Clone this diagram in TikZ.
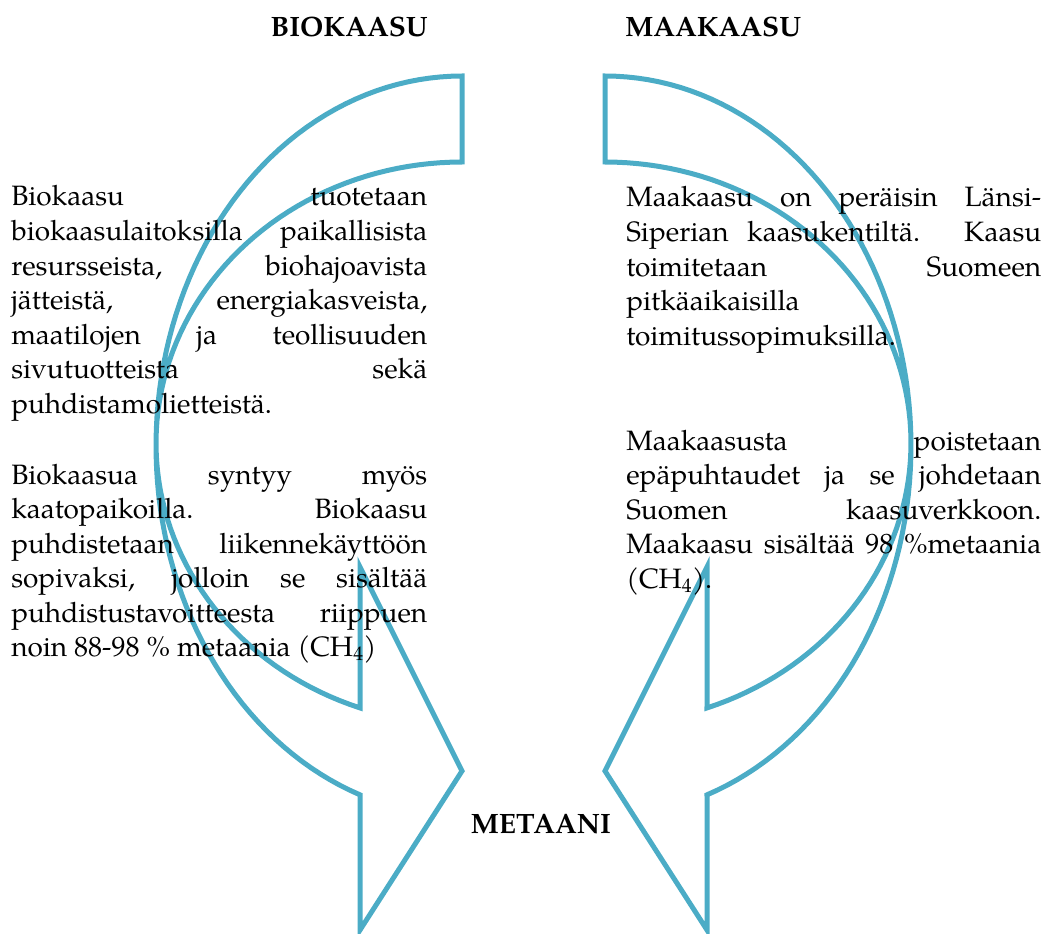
\documentclass[tikz,border=0pt]{standalone}
\usepackage{fontspec}
\setmainfont{TeX Gyre Pagella}

\definecolor{kaarisininen}{HTML}{4BACC6}

\tikzset{
  kaari/.style={draw=kaarisininen, line width=3.75pt, line join=miter},
  otsikko/.style={font=\fontsize{21}{26}\selectfont\bfseries, inner sep=0pt},
  leipa/.style={font=\fontsize{21}{25.9}\selectfont, inner sep=0pt, anchor=base west},
  % one curved arrow, the right one is its mirror image
  nuoli/.pic={
    \draw[kaari] (462,76)
      -- plot[domain=270:109.47, samples=80] ({462+306*cos(\x)}, {446+370*sin(\x)})
      -- (360,930) -- (462,771) -- (360,567)
      -- plot[domain=109.47:270, samples=80] ({462+306*cos(\x)}, {443+281*sin(\x)})
      -- cycle;
  }
}

\begin{document}
\begin{tikzpicture}[x=0.75pt, y=-0.75pt]
    \useasboundingbox (0,0) rectangle (1045,934);

    % Draw the two curved arrows
    \pic at (0,0) {nuoli};
    \pic[xscale=-1] at (1067,0) {nuoli};

    % Headings
    \node[otsikko, anchor=base east] (biokaasu) at (428,37) {BIOKAASU};
    \node[otsikko, anchor=base west] (maakaasu) at (625,37) {MAAKAASU};
    \node[otsikko, anchor=base] (metaani) at (541,833) {METAANI};

    % Biogas texts
    \node[leipa] (bioteksti1) at (11,206) {\parbox[t]{312pt}{\tolerance=10000
      Biokaasu tuotetaan\linebreak
      biokaasulaitoksilla paikallisista\linebreak
      resursseista, biohajoavista\linebreak
      jätteistä, energiakasveista,\linebreak
      maatilojen ja teollisuuden\linebreak
      sivutuotteista sekä\linebreak
      puhdistamolietteistä.}};
    \node[leipa] (bioteksti2) at (11,484) {\parbox[t]{312pt}{\tolerance=10000
      Biokaasua syntyy myös\linebreak
      kaatopaikoilla. Biokaasu\linebreak
      puhdistetaan liikennekäyttöön\linebreak
      sopivaksi, jolloin se sisältää\linebreak
      puhdistustavoitteesta riippuen\linebreak
      noin 88-98 \% metaania (CH\textsubscript{4})}};

    % Natural gas texts
    \node[leipa] (maateksti1) at (626,207) {\parbox[t]{311.25pt}{\tolerance=10000
      Maakaasu on peräisin Länsi-\linebreak
      Siperian kaasukentiltä. Kaasu\linebreak
      toimitetaan Suomeen\linebreak
      pitkäaikaisilla\linebreak
      toimitussopimuksilla.}};
    \node[leipa] (maateksti2) at (626,450) {\parbox[t]{311.25pt}{\tolerance=10000
      Maakaasusta poistetaan\linebreak
      epäpuhtaudet ja se johdetaan\linebreak
      Suomen kaasuverkkoon.\linebreak
      Maakaasu sisältää 98 \%metaania\linebreak
      (CH\textsubscript{4}).}};
  \end{tikzpicture}
\end{document}
